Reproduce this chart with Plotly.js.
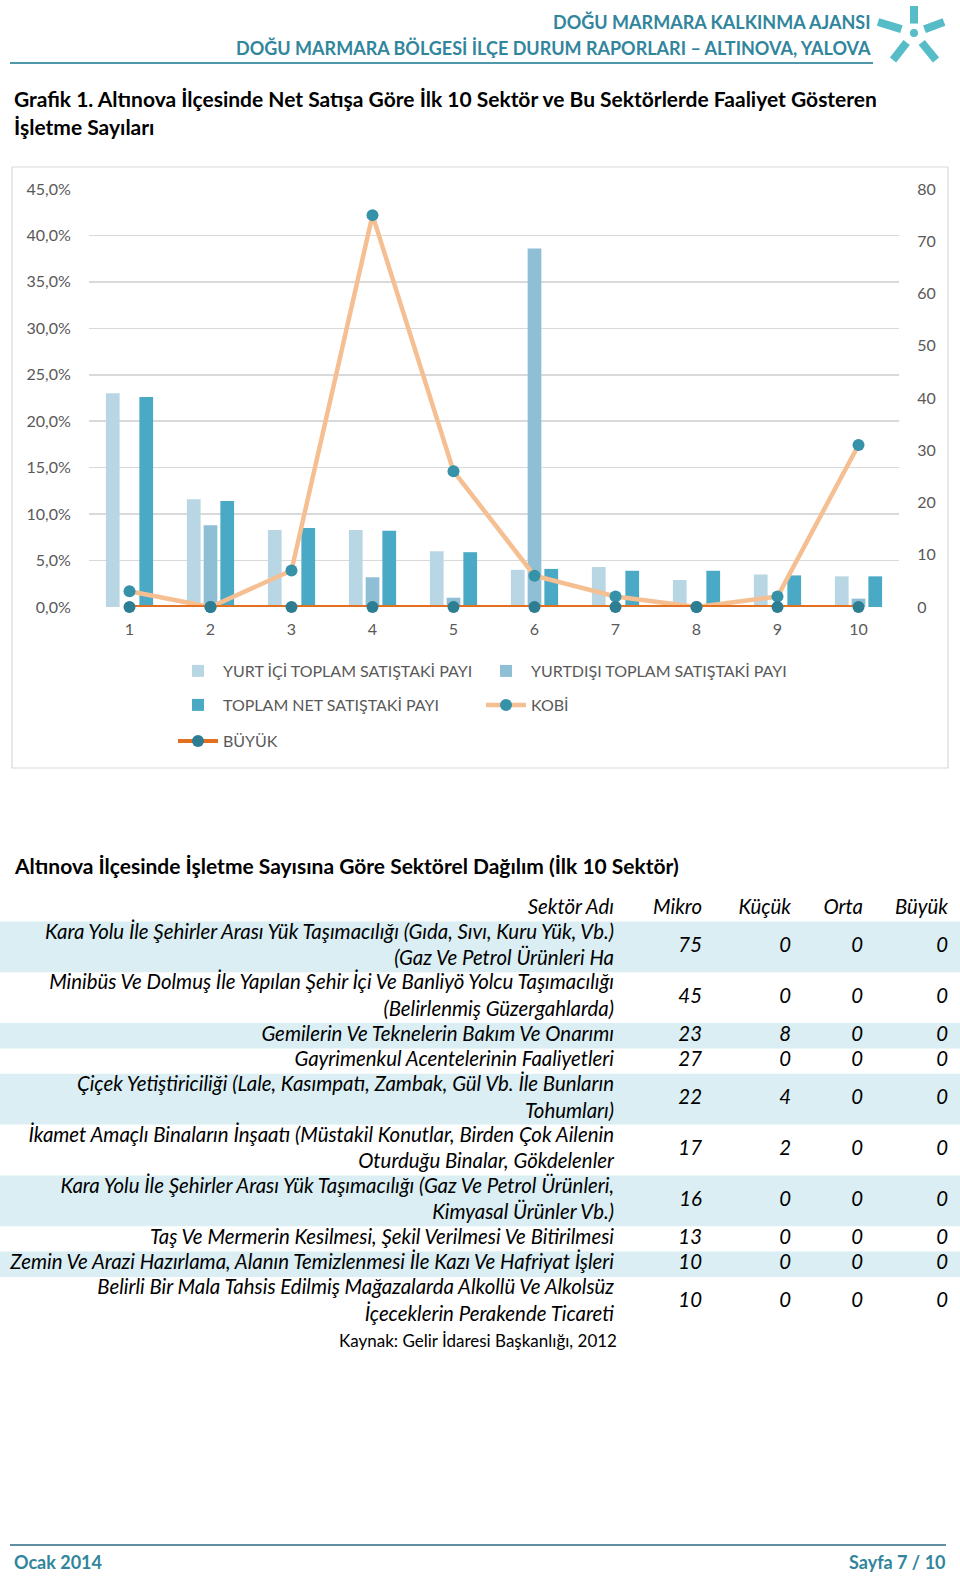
<!DOCTYPE html>
<html><head><meta charset="utf-8">
<script src="https://cdn.plot.ly/plotly-3.0.1.min.js"></script>
<style>html,body{margin:0;padding:0;background:#fff}#chart{width:960px;height:1578px}</style>
</head><body><div id="chart"></div>
<script>
// ---------- DATA ----------
const categories = [1, 2, 3, 4, 5, 6, 7, 8, 9, 10];
const yurtIci   = [23.0, 11.6, 8.3, 8.3, 6.0, 4.0, 4.3, 2.9, 3.5, 3.3];
const yurtDisi  = [0, 8.8, 0, 3.2, 1.0, 38.6, 0, 0, 0, 0.9];
const toplamNet = [22.6, 11.4, 8.5, 8.2, 5.9, 4.1, 3.9, 3.9, 3.4, 3.3];
const kobi      = [3, 0, 7, 75, 26, 6, 2, 0, 2, 31];
const buyuk     = [0, 0, 0, 0, 0, 0, 0, 0, 0, 0];
const seriesNames = ['YURT İÇİ TOPLAM SATIŞTAKİ PAYI', 'YURTDIŞI TOPLAM SATIŞTAKİ PAYI',
  'TOPLAM NET SATIŞTAKİ PAYI', 'KOBİ', 'BÜYÜK'];

const tableHeader = ['Sektör Adı', 'Mikro', 'Küçük', 'Orta', 'Büyük'];
const sectors = [
  'Kara Yolu İle Şehirler Arası Yük Taşımacılığı (Gıda, Sıvı, Kuru Yük, Vb.)<br>(Gaz Ve Petrol Ürünleri Ha',
  'Minibüs Ve Dolmuş İle Yapılan Şehir İçi Ve Banliyö Yolcu Taşımacılığı<br>(Belirlenmiş Güzergahlarda)',
  'Gemilerin Ve Teknelerin Bakım Ve Onarımı',
  'Gayrimenkul Acentelerinin Faaliyetleri',
  'Çiçek Yetiştiriciliği (Lale, Kasımpatı, Zambak, Gül Vb. İle Bunların<br>Tohumları)',
  'İkamet Amaçlı Binaların İnşaatı (Müstakil Konutlar, Birden Çok Ailenin<br>Oturduğu Binalar, Gökdelenler',
  'Kara Yolu İle Şehirler Arası Yük Taşımacılığı (Gaz Ve Petrol Ürünleri,<br>Kimyasal Ürünler Vb.)',
  'Taş Ve Mermerin Kesilmesi, Şekil Verilmesi Ve Bitirilmesi',
  'Zemin Ve Arazi Hazırlama, Alanın Temizlenmesi İle Kazı Ve Hafriyat İşleri',
  'Belirli Bir Mala Tahsis Edilmiş Mağazalarda Alkollü Ve Alkolsüz<br>İçeceklerin Perakende Ticareti'
];
const mikro = [75, 45, 23, 27, 22, 17, 16, 13, 10, 10];
const kucuk = [0, 0, 8, 0, 4, 2, 0, 0, 0, 0];
const orta  = [0, 0, 0, 0, 0, 0, 0, 0, 0, 0];
const buyukSayi = [0, 0, 0, 0, 0, 0, 0, 0, 0, 0];

// ---------- LAYOUT HELPERS ----------
const W = 960, H = 1578;
const px = x => x / W;
const py = y => 1 - y / H;
const FONT = 'Lato, "Open Sans", sans-serif';
const TEAL = '#31859c';
const GREY = '#595959';

// ---------- CHART TRACES ----------
const barColors = ['#b9d6e4', '#8fbfd5', '#4aa9c5'];
const barSeries = [yurtIci, yurtDisi, toplamNet];
const traces = barSeries.map((vals, i) => ({
  type: 'bar', x: categories, y: vals, name: seriesNames[i],
  marker: {color: barColors[i]}, xaxis: 'x', yaxis: 'y',
  legend: i < 2 ? 'legend' : 'legend2', hoverinfo: 'skip'
}));
traces.push({
  type: 'scatter', mode: 'lines+markers', x: categories, y: kobi, name: seriesNames[3],
  xaxis: 'x', yaxis: 'y2', legend: 'legend2', cliponaxis: false,
  line: {color: '#f5bf92', width: 4.5}, marker: {color: '#3592a9', size: 12}
});
traces.push({
  type: 'scatter', mode: 'lines+markers', x: categories, y: buyuk, name: seriesNames[4],
  xaxis: 'x', yaxis: 'y2', legend: 'legend3', cliponaxis: false,
  line: {color: '#e3701e', width: 4}, marker: {color: '#2d7d93', size: 12}
});

// ---------- TABLE (drawn on its own hidden axes) ----------
const lineCounts = sectors.map(s => s.split('<br>').length);
const rowStart = [];
let acc = 1; // header occupies one line unit
lineCounts.forEach(n => { rowStart.push(acc); acc += n; });
const totalLines = acc;
const rowCenter = rowStart.map((s, i) => s + lineCounts[i] / 2);
const colRight = [614, 702, 791, 863, 948];
const tFont = {family: FONT, size: 20.4, color: '#000', style: 'italic'};

traces.push({
  type: 'scatter', mode: 'text', xaxis: 'x3', yaxis: 'y3', showlegend: false, hoverinfo: 'skip',
  x: tableHeader.map((_, i) => colRight[i]), y: tableHeader.map(() => 0.5),
  text: tableHeader, textposition: 'middle left', textfont: tFont
});
const columns = [sectors, mikro, kucuk, orta, buyukSayi];
columns.forEach((col, ci) => {
  traces.push({
    type: 'scatter', mode: 'text', xaxis: 'x3', yaxis: 'y3', showlegend: false, hoverinfo: 'skip',
    x: col.map(() => colRight[ci]), y: rowCenter,
    text: col.map(v => String(v)), textposition: 'middle left', textfont: tFont
  });
});

const shapes = [];
// table row backgrounds
rowStart.forEach((s, i) => {
  if (i % 2 === 0) shapes.push({type: 'rect', xref: 'paper', yref: 'y3', x0: 0, x1: 1,
    y0: s, y1: s + lineCounts[i], fillcolor: '#daeef3', line: {width: 0}, layer: 'below'});
});
// chart frame
shapes.push({type: 'rect', xref: 'paper', yref: 'paper', x0: px(12), x1: px(948), y0: py(167), y1: py(768),
  line: {color: '#d9d9d9', width: 1.2}, fillcolor: 'rgba(0,0,0,0)', layer: 'below'});
// header rule and footer rule
shapes.push({type: 'line', xref: 'paper', yref: 'paper', x0: px(10), x1: px(873), y0: py(63), y1: py(63),
  line: {color: '#4f98ab', width: 2}});
shapes.push({type: 'line', xref: 'paper', yref: 'paper', x0: px(10), x1: px(946), y0: py(1545), y1: py(1545),
  line: {color: '#5f8fa0', width: 2}});
// logo (simplified five-arm star)
const lc = [914, 33];
[[914, 6], [878, 22], [944, 22], [893, 60], [936, 60]].forEach(p => {
  shapes.push({type: 'line', xref: 'paper', yref: 'paper', x0: px(lc[0] + (p[0] - lc[0]) * 0.35),
    y0: py(lc[1] + (p[1] - lc[1]) * 0.35), x1: px(p[0]), y1: py(p[1]), line: {color: '#55bcc8', width: 8}});
});
shapes.push({type: 'circle', xref: 'paper', yref: 'paper', x0: px(910), x1: px(918), y0: py(29), y1: py(37),
  fillcolor: '#55bcc8', line: {width: 0}});

const ann = (text, x, y, opts) => Object.assign({text, x: px(x), y: py(y), xref: 'paper', yref: 'paper',
  showarrow: false, yanchor: 'middle'}, opts);
const annotations = [
  ann('<b>DOĞU MARMARA KALKINMA AJANSI</b>', 873, 22, {xanchor: 'right', font: {family: FONT, size: 18, color: TEAL}}),
  ann('<b>DOĞU MARMARA BÖLGESİ İLÇE DURUM RAPORLARI – ALTINOVA, YALOVA</b>', 873, 48, {xanchor: 'right', font: {family: FONT, size: 18, color: TEAL}}),
  ann('<b>Grafik 1. Altınova İlçesinde Net Satışa Göre İlk 10 Sektör ve Bu Sektörlerde Faaliyet Gösteren</b>', 12, 98, {xanchor: 'left', font: {family: FONT, size: 21, color: '#000'}}),
  ann('<b>İşletme Sayıları</b>', 12, 126, {xanchor: 'left', font: {family: FONT, size: 21, color: '#000'}}),
  ann('<b>Altınova İlçesinde İşletme Sayısına Göre Sektörel Dağılım (İlk 10 Sektör)</b>', 12, 865, {xanchor: 'left', font: {family: FONT, size: 21, color: '#000'}}),
  ann('Kaynak: Gelir İdaresi Başkanlığı, 2012', 619, 1340, {xanchor: 'right', font: {family: FONT, size: 17, color: '#000'}}),
  ann('<b>Ocak 2014</b>', 12, 1562, {xanchor: 'left', font: {family: FONT, size: 18, color: TEAL}}),
  ann('<b>Sayfa 7 / 10</b>', 948, 1562, {xanchor: 'right', font: {family: FONT, size: 18, color: TEAL}})
];

const legendBase = {orientation: 'h', xanchor: 'left', yanchor: 'middle', entrywidth: 253, entrywidthmode: 'pixels',
  font: {family: FONT, size: 16, color: GREY}, bgcolor: 'rgba(0,0,0,0)', itemwidth: 40, traceorder: 'normal'};

const layout = {
  width: W, height: H, margin: {l: 0, r: 0, t: 0, b: 0}, paper_bgcolor: '#fff', plot_bgcolor: 'rgba(0,0,0,0)',
  separators: ',.', barmode: 'group', bargap: 0.38, bargroupgap: 0.18,
  font: {family: FONT, color: GREY},
  xaxis: {domain: [px(89), px(899)], range: [0.5, 10.5], tickvals: categories, showgrid: false, zeroline: false,
    showline: false, ticks: 'outside', ticklen: 8, tickcolor: 'rgba(0,0,0,0)', tickfont: {family: FONT, size: 16, color: GREY},
    fixedrange: true},
  yaxis: {domain: [py(607), py(189)], range: [0, 45], dtick: 5, tickformat: '.1f', ticksuffix: '%',
    gridcolor: '#d9d9d9', gridwidth: 1.5, zeroline: false, showline: false, ticks: 'outside', ticklen: 14,
    tickcolor: 'rgba(0,0,0,0)', tickfont: {family: FONT, size: 16, color: GREY}, fixedrange: true},
  yaxis2: {overlaying: 'y', side: 'right', anchor: 'x', range: [0, 80], dtick: 10, showgrid: false, zeroline: false,
    showline: false, ticks: 'outside', ticklen: 14, tickcolor: 'rgba(0,0,0,0)',
    tickfont: {family: FONT, size: 16, color: GREY}, fixedrange: true},
  xaxis3: {domain: [0, 1], range: [0, W], visible: false, anchor: 'y3', fixedrange: true},
  yaxis3: {domain: [py(896 + totalLines * 25.4), py(896)], range: [totalLines, 0], visible: false, anchor: 'x3', fixedrange: true},
  legend: Object.assign({}, legendBase, {x: px(173), y: py(671)}),
  legend2: Object.assign({}, legendBase, {x: px(173), y: py(705)}),
  legend3: Object.assign({}, legendBase, {x: px(173), y: py(741)}),
  shapes, annotations
};

Plotly.newPlot('chart', traces, layout, {displayModeBar: false, staticPlot: true});
</script></body></html>
